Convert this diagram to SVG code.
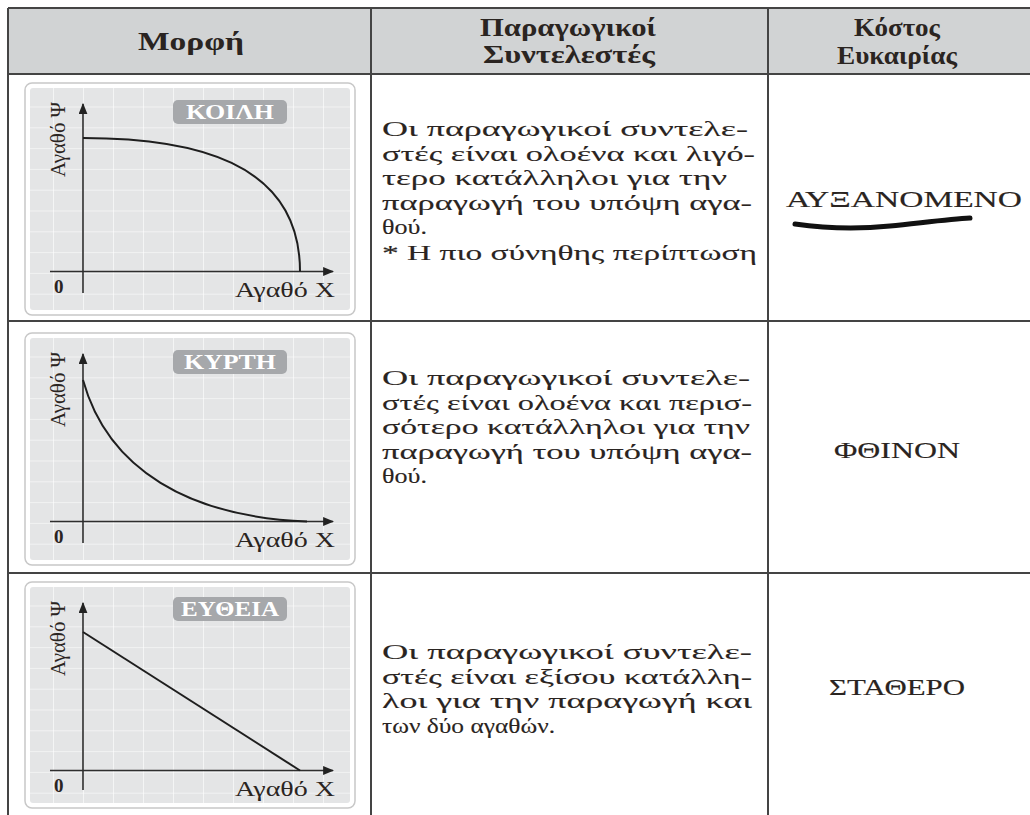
<svg xmlns="http://www.w3.org/2000/svg" width="1030" height="815" viewBox="0 0 1030 815">
<style>
.t{font-family:"Liberation Serif","DejaVu Serif",serif;fill:#2a2421}
.body{font-size:22px;stroke:#2a2421;stroke-width:0.12}
.hd{font-size:25px;font-weight:bold}
.cap{font-size:24px;stroke:#2a2421;stroke-width:0.15}
.ax{font-family:"Liberation Serif","DejaVu Serif",serif;fill:#2a2421;font-size:22px}
.zero{font-family:"Liberation Serif","DejaVu Serif",serif;fill:#2a2421;font-size:19px;font-weight:bold}
.lbl{font-family:"Liberation Serif","DejaVu Serif",serif;fill:#fff;font-size:20px;font-weight:bold}
.grid{stroke:#fff;stroke-width:1.2}
.axis{stroke:#2e2e2e;stroke-width:1.6;fill:none}
.curve{stroke:#1e1e1e;stroke-width:2;fill:none}
.frame{fill:#fff;stroke:#c8c8c8;stroke-width:1.5}
.plot{fill:#e4e5e6}
.tag{fill:#a6a8ab}
.rule{stroke:#444;stroke-width:2;fill:none}
</style>
<defs>
<pattern id="gp" patternUnits="userSpaceOnUse" x="53" y="106.5" width="30" height="20.8">
<path d="M0,0 V20.8 M0,0 H30" class="grid"/>
</pattern>
<marker id="ah" viewBox="0 0 10 8" refX="9" refY="4" markerWidth="11" markerHeight="9" markerUnits="userSpaceOnUse" orient="auto">
<path d="M0,0 L10,4 L0,8 z" fill="#222"/>
</marker>
</defs>
<rect width="1030" height="815" fill="#fff"/>

<g id="table">
<rect x="8" y="8" width="1030" height="66" fill="#d1d3d4"/>
<path class="rule" d="M8,8 H1030 M8,74 H1030 M8,321 H1030 M8,573 H1030 M8,8 V815 M371,8 V815 M768,8 V815"/>
</g>

<g id="header">
<text class="t hd" x="191" y="50" text-anchor="middle" textLength="106" lengthAdjust="spacingAndGlyphs">Μορφή</text>
<text class="t hd" x="568" y="36" text-anchor="middle" textLength="176" lengthAdjust="spacingAndGlyphs">Παραγωγικοί</text>
<text class="t hd" x="569" y="63" text-anchor="middle" textLength="172" lengthAdjust="spacingAndGlyphs">Συντελεστές</text>
<text class="t hd" x="897" y="36" text-anchor="middle" textLength="86" lengthAdjust="spacingAndGlyphs">Κόστος</text>
<text class="t hd" x="897" y="64" text-anchor="middle" textLength="120" lengthAdjust="spacingAndGlyphs">Ευκαιρίας</text>
</g>

<g id="chart-koilh">
<rect class="frame" x="25" y="83" width="330" height="232" rx="7"/>
<rect class="plot" x="30" y="88" width="320" height="222" rx="3"/>
<rect x="30" y="88" width="320" height="222" fill="url(#gp)"/>
<rect class="tag" x="173" y="100" width="114" height="24" rx="5"/>
<text class="lbl" x="230" y="119" text-anchor="middle" textLength="88" lengthAdjust="spacingAndGlyphs">ΚΟΙΛΗ</text>
<path class="axis" d="M83,293 V104" marker-end="url(#ah)"/>
<path class="axis" d="M50,271.5 H333" marker-end="url(#ah)"/>
<path class="curve" d="M83,138 C190,138 300,160 300,271.5"/>
<text class="ax" transform="translate(65,177) rotate(-90)" textLength="75" lengthAdjust="spacingAndGlyphs">Αγαθό Ψ</text>
<text class="zero" x="54" y="293">0</text>
<text class="ax" x="235" y="297" textLength="100" lengthAdjust="spacingAndGlyphs">Αγαθό Χ</text>
</g>

<g id="chart-kyrth" transform="translate(0,250)">
<rect class="frame" x="25" y="83" width="330" height="232" rx="7"/>
<rect class="plot" x="30" y="88" width="320" height="222" rx="3"/>
<rect x="30" y="88" width="320" height="222" fill="url(#gp)"/>
<rect class="tag" x="173" y="100" width="114" height="24" rx="5"/>
<text class="lbl" x="230" y="119" text-anchor="middle" textLength="92" lengthAdjust="spacingAndGlyphs">ΚΥΡΤΗ</text>
<path class="axis" d="M83,293 V104" marker-end="url(#ah)"/>
<path class="axis" d="M50,271.5 H333" marker-end="url(#ah)"/>
<path class="curve" d="M83,130 C108,220 190,267 307,271.5"/>
<text class="ax" transform="translate(65,177) rotate(-90)" textLength="75" lengthAdjust="spacingAndGlyphs">Αγαθό Ψ</text>
<text class="zero" x="54" y="293">0</text>
<text class="ax" x="235" y="297" textLength="100" lengthAdjust="spacingAndGlyphs">Αγαθό Χ</text>
</g>

<g id="chart-eytheia" transform="translate(0,499)">
<rect class="frame" x="25" y="83" width="330" height="226" rx="7"/>
<rect class="plot" x="30" y="88" width="320" height="216" rx="3"/>
<rect x="30" y="88" width="320" height="216" fill="url(#gp)"/>
<rect class="tag" x="173" y="98" width="114" height="24" rx="5"/>
<text class="lbl" x="230" y="117" text-anchor="middle" textLength="98" lengthAdjust="spacingAndGlyphs">ΕΥΘΕΙΑ</text>
<path class="axis" d="M83,291 V104" marker-end="url(#ah)"/>
<path class="axis" d="M50,271.5 H333" marker-end="url(#ah)"/>
<path class="curve" d="M83,133 L300,271.5"/>
<text class="ax" transform="translate(65,177) rotate(-90)" textLength="75" lengthAdjust="spacingAndGlyphs">Αγαθό Ψ</text>
<text class="zero" x="54" y="293">0</text>
<text class="ax" x="235" y="297" textLength="100" lengthAdjust="spacingAndGlyphs">Αγαθό Χ</text>
</g>

<g id="text-row1">
<text class="t body" x="382" y="136" textLength="366" lengthAdjust="spacingAndGlyphs">Οι παραγωγικοί συντελε-</text>
<text class="t body" x="382" y="160.5" textLength="373" lengthAdjust="spacingAndGlyphs">στές είναι ολοένα και λιγό-</text>
<text class="t body" x="382" y="185" textLength="345" lengthAdjust="spacingAndGlyphs">τερο κατάλληλοι για την</text>
<text class="t body" x="382" y="209.5" textLength="370" lengthAdjust="spacingAndGlyphs">παραγωγή του υπόψη αγα-</text>
<text class="t body" x="382" y="234" textLength="45" lengthAdjust="spacingAndGlyphs">θού.</text>
<text class="t body" x="382" y="260" textLength="375" lengthAdjust="spacingAndGlyphs">* Η πιο σύνηθης περίπτωση</text>
</g>

<g id="text-row2">
<text class="t body" x="382" y="385" textLength="368" lengthAdjust="spacingAndGlyphs">Οι παραγωγικοί συντελε-</text>
<text class="t body" x="382" y="409.5" textLength="370" lengthAdjust="spacingAndGlyphs">στές είναι ολοένα και περισ-</text>
<text class="t body" x="382" y="434" textLength="368" lengthAdjust="spacingAndGlyphs">σότερο κατάλληλοι για την</text>
<text class="t body" x="382" y="458.5" textLength="370" lengthAdjust="spacingAndGlyphs">παραγωγή του υπόψη αγα-</text>
<text class="t body" x="382" y="483" textLength="45" lengthAdjust="spacingAndGlyphs">θού.</text>
</g>

<g id="text-row3">
<text class="t body" x="382" y="659" textLength="370" lengthAdjust="spacingAndGlyphs">Οι παραγωγικοί συντελε-</text>
<text class="t body" x="382" y="683.5" textLength="370" lengthAdjust="spacingAndGlyphs">στές είναι εξίσου κατάλλη-</text>
<text class="t body" x="382" y="708" textLength="370" lengthAdjust="spacingAndGlyphs">λοι για την παραγωγή και</text>
<text class="t body" x="382" y="732.5" textLength="173" lengthAdjust="spacingAndGlyphs">των δύο αγαθών.</text>
</g>

<g id="cost-col">
<text class="t cap" x="904" y="207" text-anchor="middle" textLength="236" lengthAdjust="spacingAndGlyphs">ΑΥΞΑΝΟΜΕΝΟ</text>
<path d="M795,224 C830,229 860,229 890,226 S950,219 970,218" stroke="#111" stroke-width="5" stroke-linecap="round" fill="none"/>
<text class="t cap" x="897" y="458" text-anchor="middle" textLength="126" lengthAdjust="spacingAndGlyphs">ΦΘΙΝΟΝ</text>
<text class="t cap" x="897" y="695" text-anchor="middle" textLength="136" lengthAdjust="spacingAndGlyphs">ΣΤΑΘΕΡΟ</text>
</g>
</svg>
